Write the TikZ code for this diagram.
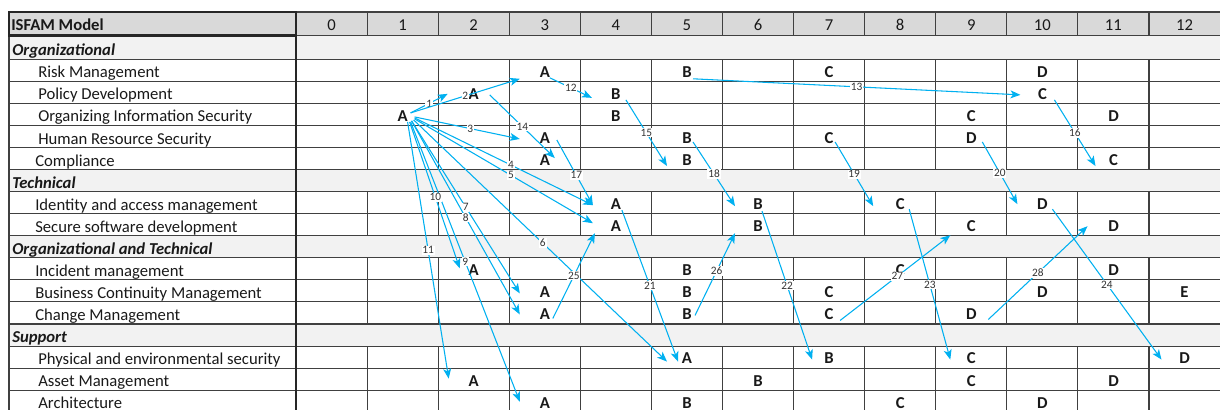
\documentclass[tikz,border=0pt]{standalone}
\usepackage{fontspec}
\setmainfont{Carlito}
\usetikzlibrary{arrows.meta,calc}
\definecolor{arrowblue}{HTML}{00B0F0}
\definecolor{headgray}{HTML}{D9D9D9}
\definecolor{sectgray}{HTML}{F2F2F2}
\newcommand{\cellfont}{\fontsize{12.5}{14}\selectfont}

\begin{document}
\begin{tikzpicture}[x=0.75pt, y=-0.75pt,
  gridline/.style={line width=0.8pt, draw=black!75},
  boldline/.style={line width=2pt, draw=black!85},
  letter/.style={font=\cellfont\bfseries, text=black!90, inner sep=1pt},
  rowlabel/.style={font=\cellfont, text=black!90, anchor=base west, inner sep=0pt},
  sectlabel/.style={font=\cellfont\bfseries\itshape, text=black!90, anchor=base west, inner sep=0pt},
  colhead/.style={font=\cellfont, text=black!90, anchor=base, inner sep=0pt},
  arr/.style={draw=arrowblue, line width=0.8pt, -{Stealth[length=7.5pt, width=6pt, inset=2pt]}},
  num/.style={font=\fontsize{8.5}{9}\selectfont, text=black!80, fill=white, inner sep=0.6pt, pos=0.5}]
\useasboundingbox (0,0) rectangle (1220,410);
\clip (0,0) rectangle (1220,410);

% table background
\fill[headgray] (9,12) rectangle (1220,35.5);
\foreach \ya/\yb in {35.5/59.3, 169.6/191.66, 235.78/257.84, 324.02/346.08}
  \fill[sectgray] (9,\ya) rectangle (1220,\yb);

% grid
\draw[gridline] (296,12) -- (1220,12);
\draw[gridline] (9,35.5) -- (1220,35.5);
\foreach \r in {1,...,16}
  \draw[gridline] (9,{59.3+22.06*(\r-1)}) -- (1220,{59.3+22.06*(\r-1)});
\foreach \k in {1,...,12}
  \foreach \ya/\yb in {12/35.5, 59.3/169.6, 191.66/235.78, 257.84/324.02, 346.08/412}
    \draw[gridline] ({296+71.08*\k},\ya) -- ({296+71.08*\k},\yb);
\draw[gridline, line width=1.2pt] (9,12) -- (9,412);
\draw[boldline] (296,12) -- (296,412);
\draw[boldline] (9,12) rectangle (296,35.5);

% header
\node[rowlabel, font=\cellfont\bfseries] (tModel) at (11,31) {ISFAM Model};
\foreach \k in {0,...,12}
  \node[colhead] (h\k) at ({296+71.08*(\k+0.5)},31) {\k};

% row labels
\node[sectlabel] (tOrg) at (12,55.8) {Organizational};
\node[rowlabel] (tRM) at (38,77.86) {Risk Management};
\node[rowlabel] (tPD) at (38,99.92) {Policy Development};
\node[rowlabel] (tOIS) at (38,121.98) {Organizing Information Security};
\node[rowlabel] (tHR) at (38,144.04) {Human Resource Security};
\node[rowlabel] (tCO) at (35,166.1) {Compliance};
\node[sectlabel] (tTech) at (12,188.16) {Technical};
\node[rowlabel] (tIAM) at (35,210.22) {Identity and access management};
\node[rowlabel] (tSSD) at (35,232.28) {Secure software development};
\node[sectlabel] (tOT) at (12,254.34) {Organizational and Technical};
\node[rowlabel] (tIM) at (35,276.4) {Incident management};
\node[rowlabel] (tBCM) at (35,298.46) {Business Continuity Management};
\node[rowlabel] (tCM) at (35,320.52) {Change Management};
\node[sectlabel] (tSup) at (12,342.58) {Support};
\node[rowlabel] (tPES) at (38,364.64) {Physical and environmental security};
\node[rowlabel] (tAM) at (38,386.7) {Asset Management};
\node[rowlabel] (tAR) at (38,408.76) {Architecture};

% maturity levels
\node[letter] (rmA) at (544.8,71.8) {A};
\node[letter] (rmB) at (687,71.8) {B};
\node[letter] (rmC) at (829.1,71.8) {C};
\node[letter] (rmD) at (1042.4,71.8) {D};
\node[letter] (pdA) at (473.7,93.86) {A};
\node[letter] (pdB) at (615.9,93.86) {B};
\node[letter] (pdC) at (1042.4,93.86) {C};
\node[letter] (oisA) at (402.6,115.92) {A};
\node[letter] (oisB) at (615.9,115.92) {B};
\node[letter] (oisC) at (971.3,115.92) {C};
\node[letter] (oisD) at (1113.5,115.92) {D};
\node[letter] (hrA) at (544.8,137.98) {A};
\node[letter] (hrB) at (687,137.98) {B};
\node[letter] (hrC) at (829.1,137.98) {C};
\node[letter] (hrD) at (971.3,137.98) {D};
\node[letter] (coA) at (544.8,160.04) {A};
\node[letter] (coB) at (687,160.04) {B};
\node[letter] (coC) at (1113.5,160.04) {C};
\node[letter] (iamA) at (615.9,204.16) {A};
\node[letter] (iamB) at (758,204.16) {B};
\node[letter] (iamC) at (900.2,204.16) {C};
\node[letter] (iamD) at (1042.4,204.16) {D};
\node[letter] (ssdA) at (615.9,226.22) {A};
\node[letter] (ssdB) at (758,226.22) {B};
\node[letter] (ssdC) at (971.3,226.22) {C};
\node[letter] (ssdD) at (1113.5,226.22) {D};
\node[letter] (imA) at (473.7,270.34) {A};
\node[letter] (imB) at (687,270.34) {B};
\node[letter] (imC) at (900.2,270.34) {C};
\node[letter] (imD) at (1113.5,270.34) {D};
\node[letter] (bcmA) at (544.8,292.4) {A};
\node[letter] (bcmB) at (687,292.4) {B};
\node[letter] (bcmC) at (829.1,292.4) {C};
\node[letter] (bcmD) at (1042.4,292.4) {D};
\node[letter] (bcmE) at (1184.5,292.4) {E};
\node[letter] (cmA) at (544.8,314.46) {A};
\node[letter] (cmB) at (687,314.46) {B};
\node[letter] (cmC) at (829.1,314.46) {C};
\node[letter] (cmD) at (971.3,314.46) {D};
\node[letter] (pesA) at (687,358.58) {A};
\node[letter] (pesB) at (829.1,358.58) {B};
\node[letter] (pesC) at (971.3,358.58) {C};
\node[letter] (pesD) at (1184.5,358.58) {D};
\node[letter] (amA) at (473.7,380.64) {A};
\node[letter] (amB) at (758,380.64) {B};
\node[letter] (amC) at (971.3,380.64) {C};
\node[letter] (amD) at (1113.5,380.64) {D};
\node[letter] (arA) at (544.8,402.7) {A};
\node[letter] (arB) at (687,402.7) {B};
\node[letter] (arC) at (900.2,402.7) {C};
\node[letter] (arD) at (1042.4,402.7) {D};

% dependencies
\draw[arr] ([shift={(8,-3)}]oisA.center) -- ([shift={(-26,0)}]pdA.center) node[num] (n1) {1};
\draw[arr] ([shift={(8,-3)}]oisA.center) -- ([shift={(-25,7)}]rmA.center) node[num] (n2) {2};
\draw[arr] ([shift={(12,1)}]oisA.center) -- ([shift={(-25,1)}]hrA.center) node[num, pos=0.53] (n3) {3};
\draw[arr] ([shift={(12,2)}]oisA.center) -- ([shift={(-23,1)}]iamA.center) node[num, pos=0.54] (n4) {4};
\draw[arr] ([shift={(12,3)}]oisA.center) -- ([shift={(-23,-3)}]ssdA.center) node[num, pos=0.54] (n5) {5};
\draw[arr] ([shift={(11,4)}]oisA.center) -- ([shift={(-20,3)}]pesA.center) node[num, pos=0.51] (n6) {6};
\draw[arr] ([shift={(9,5)}]oisA.center) -- ([shift={(-25,1)}]bcmA.center) node[num] (n7) {7};
\draw[arr] ([shift={(9,5)}]oisA.center) -- ([shift={(-25,0)}]cmA.center) node[num] (n8) {8};
\draw[arr] ([shift={(8,6)}]oisA.center) -- ([shift={(-25,-1)}]arA.center) node[num] (n9) {9};
\draw[arr] ([shift={(7,6)}]oisA.center) -- ([shift={(-14,-2)}]imA.center) node[num, pos=0.515] (n10) {10};
\draw[arr] ([shift={(5,6)}]oisA.center) -- ([shift={(-25,-2)}]amA.center) node[num] (n11) {11};
\draw[arr] ([shift={(5,6)}]rmA.center) -- ([shift={(-24,4)}]pdB.center) node[num] (n12) {12};
\draw[arr] ([shift={(6,7)}]rmB.center) -- ([shift={(-22,1)}]pdC.center) node[num] (n13) {13};
\draw[arr] ([shift={(16,1)}]pdA.center) -- ([shift={(10,-2)}]coA.center) node[num] (n14) {14};
\draw[arr] ([shift={(10,6)}]pdB.center) -- ([shift={(-20,6)}]coB.center) node[num] (n15) {15};
\draw[arr] ([shift={(12,6)}]pdC.center) -- ([shift={(-18,6)}]coC.center) node[num] (n16) {16};
\draw[arr] ([shift={(12,2)}]hrA.center) -- ([shift={(-23,1)}]iamA.center) node[num, pos=0.54] (n17) {17};
\draw[arr] ([shift={(6,4)}]hrB.center) -- ([shift={(-23,2)}]iamB.center) node[num] (n18) {18};
\draw[arr] ([shift={(6,4)}]hrC.center) -- ([shift={(-27,2)}]iamC.center) node[num] (n19) {19};
\draw[arr] ([shift={(11,4)}]hrD.center) -- ([shift={(-25,0)}]iamD.center) node[num] (n20) {20};
\draw[arr] ([shift={(6,6)}]iamA.center) -- ([shift={(-9,3)}]pesA.center) node[num] (n21) {21};
\draw[arr] ([shift={(4,7)}]iamB.center) -- ([shift={(-17,1)}]pesB.center) node[num] (n22) {22};
\draw[arr] ([shift={(9,5)}]iamC.center) -- ([shift={(-21,1)}]pesC.center) node[num] (n23) {23};
\draw[arr] ([shift={(10,5)}]iamD.center) -- ([shift={(-23,1)}]pesD.center) node[num] (n24) {24};
\draw[arr] ([shift={(8,4)}]cmA.center) -- ([shift={(-21,7)}]ssdA.center) node[num] (n25) {25};
\draw[arr] ([shift={(8,1)}]cmB.center) -- ([shift={(-23,7)}]ssdB.center) node[num, pos=0.54] (n26) {26};
\draw[arr] ([shift={(11,6)}]cmC.center) -- ([shift={(-21,9)}]ssdC.center) node[num, pos=0.52] (n27) {27};
\draw[arr] ([shift={(17,5)}]cmD.center) -- ([shift={(-26,0)}]ssdD.center) node[num] (n28) {28};
\end{tikzpicture}
\end{document}
